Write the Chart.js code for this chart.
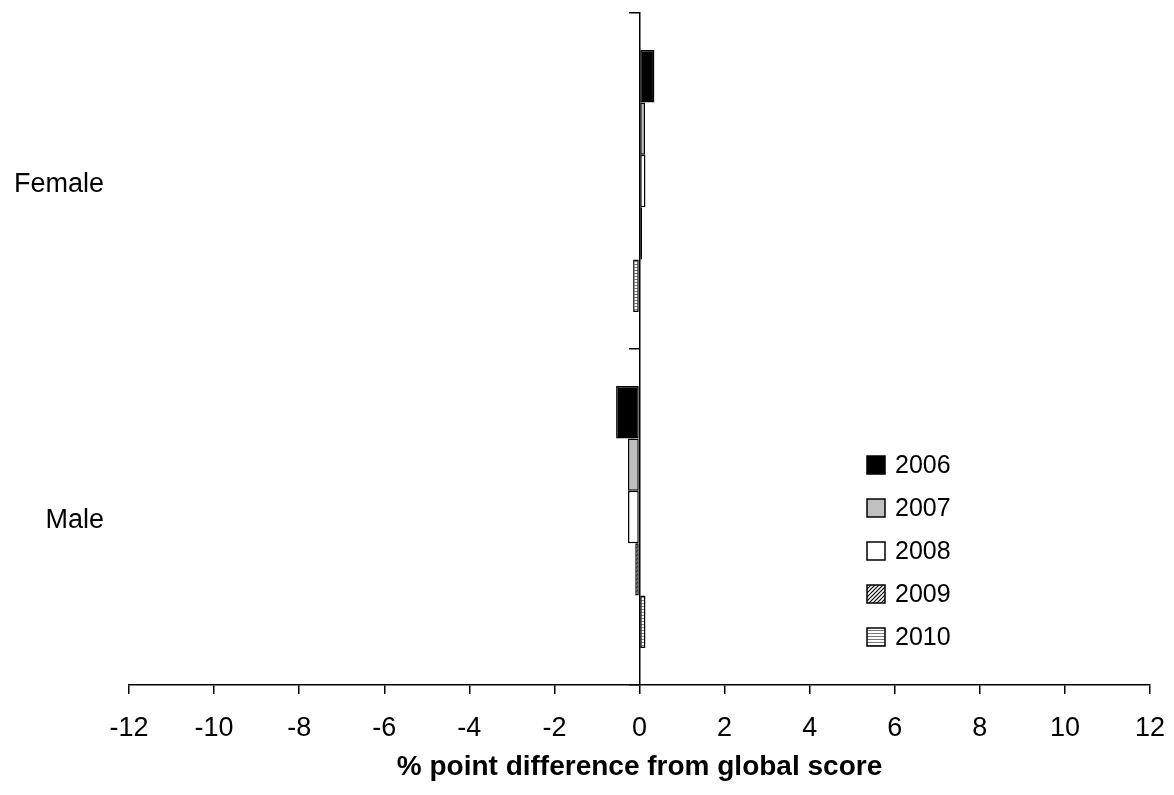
<!DOCTYPE html>
<html>
<head>
<meta charset="utf-8">
<script src="https://cdn.jsdelivr.net/npm/chart.js@4/dist/chart.umd.min.js"></script>
<style>
  html, body { margin: 0; padding: 0; background: #fff; }
  #wrap { width: 1174px; height: 795px; position: relative; }
</style>
</head>
<body>
<div id="wrap"><canvas id="c"></canvas></div>
<script>
// ---- data ----
const categories = ['Female', 'Male'];
const years = ['2006', '2007', '2008', '2009', '2010'];
const v2006 = [0.35, -0.55];
const v2007 = [0.13, -0.27];
const v2008 = [0.14, -0.27];
const v2009 = [0.06, -0.10];
const v2010 = [-0.15, 0.14];
const xTicks = [-12, -10, -8, -6, -4, -2, 0, 2, 4, 6, 8, 10, 12];

// ---- patterns ----
function diagPattern() {
  const c = document.createElement('canvas');
  c.width = 4; c.height = 4;
  const g = c.getContext('2d');
  g.fillStyle = '#fff'; g.fillRect(0, 0, 4, 4);
  g.strokeStyle = '#000'; g.lineWidth = 1.2;
  g.beginPath();
  g.moveTo(0, 4); g.lineTo(4, 0);
  g.moveTo(-1, 1); g.lineTo(1, -1);
  g.moveTo(3, 5); g.lineTo(5, 3);
  g.stroke();
  return g.createPattern(c, 'repeat');
}
function horizPattern() {
  const c = document.createElement('canvas');
  c.width = 4; c.height = 3;
  const g = c.getContext('2d');
  g.fillStyle = '#fff'; g.fillRect(0, 0, 4, 3);
  g.fillStyle = '#777'; g.fillRect(0, 0, 4, 1);
  return g.createPattern(c, 'repeat');
}
const fills = ['#000000', '#c0c0c0', '#ffffff', diagPattern(), horizPattern()];
const seriesValues = [v2006, v2007, v2008, v2009, v2010];

const datasets = years.map((y, i) => ({
  label: y,
  data: seriesValues[i],
  backgroundColor: fills[i],
  borderColor: '#000',
  borderWidth: 1.5,
  borderSkipped: false,
  categoryPercentage: 0.78,
  barPercentage: 1.0,
  yAxisID: 'y'
}));

const FONT = 'Liberation Sans, Arial, sans-serif';

const legendPlugin = {
  id: 'insideLegend',
  afterDraw(chart) {
    const ctx = chart.ctx;
    const boxX = 867, boxS = 18, textX = 895;
    const y0 = 465, dy = 43;
    ctx.save();
    ctx.font = '25px ' + FONT;
    ctx.textBaseline = 'middle';
    ctx.textAlign = 'left';
    chart.data.datasets.forEach((ds, i) => {
      const cy = y0 + i * dy;
      ctx.fillStyle = ds.backgroundColor;
      ctx.fillRect(boxX, cy - boxS / 2, boxS, boxS);
      ctx.lineWidth = 1.5;
      ctx.strokeStyle = '#000';
      ctx.strokeRect(boxX, cy - boxS / 2, boxS, boxS);
      ctx.fillStyle = '#000';
      ctx.fillText(ds.label, textX, cy + 1);
    });
    ctx.restore();
  }
};

new Chart(document.getElementById('c'), {
  type: 'bar',
  data: { labels: categories, datasets },
  plugins: [legendPlugin],
  options: {
    indexAxis: 'y',
    responsive: true,
    maintainAspectRatio: false,
    animation: false,
    layout: { padding: { left: 0, right: 24, top: 13, bottom: 0 } },
    plugins: { legend: { display: false }, tooltip: { enabled: false } },
    scales: {
      x: {
        type: 'linear',
        min: -12, max: 12,
        afterBuildTicks: (s) => { s.ticks = xTicks.map(v => ({ value: v })); },
        afterFit: (s) => { s.height = 110; s.paddingLeft = 0; s.paddingRight = 0; },
        border: { display: true, color: '#000', width: 1.5 },
        grid: { drawOnChartArea: false, drawTicks: true, tickLength: 9, color: '#000', lineWidth: 1.5 },
        ticks: { color: '#000', font: { size: 27, family: FONT }, padding: 18, maxRotation: 0 },
        title: {
          display: true,
          text: '% point difference from global score',
          color: '#000',
          font: { size: 28, weight: 'bold', family: FONT },
          padding: { top: 0, bottom: 11 }
        }
      },
      y: {
        type: 'category',
        position: 'left',
        offset: true,
        afterFit: (s) => { s.width = 129; s.paddingTop = 0; s.paddingBottom = 0; },
        border: { display: false },
        grid: { display: false, drawTicks: false },
        ticks: { color: '#000', font: { size: 27, family: FONT }, padding: 25, labelOffset: 4 }
      },
      y2: {
        type: 'category',
        labels: categories,
        position: { x: 0 },
        offset: true,
        afterFit: (s) => { s.paddingTop = 0; s.paddingBottom = 0; },
        border: { display: true, color: '#000', width: 1.5 },
        grid: { offset: true, drawOnChartArea: false, drawTicks: true, tickLength: 10, color: '#000', lineWidth: 1.5 },
        ticks: { display: false }
      }
    }
  }
});
</script>
</body>
</html>
